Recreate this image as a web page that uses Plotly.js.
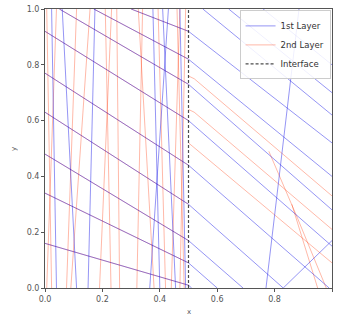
<!DOCTYPE html>
<html>
<head>
<meta charset="utf-8">
<script src="https://cdn.plot.ly/plotly-3.0.1.min.js"></script>
<style>html,body{margin:0;padding:0;background:#fff;}#chart{width:338px;height:320px;}</style>
</head>
<body>
<div id="chart"></div>
<script>
// Steep rays in the left layer: x at y=0 and x at y=1
const redSteepBottom = [0.006, 0.023, 0.075, 0.09, 0.19, 0.23, 0.26, 0.32, 0.38, 0.42, 0.44, 0.47, 0.485];
const redSteepTop    = [0.040, 0.006, 0.110, 0.157, 0.232, 0.21, 0.25, 0.34, 0.325, 0.394, 0.47, 0.49, 0.46];
const blueSteepBottom = [0.04, 0.11, 0.15, 0.365, 0.40, 0.455, 0.49];
const blueSteepTop    = [0.023, 0.06, 0.174, 0.43, 0.376, 0.41, 0.47];

// Oblique rays: start point, point on interface (x=0.5), end point
const diagStartX = [0, 0, 0, 0, 0, 0, 0.05, 0.17, 0.30];
const diagStartY = [0.16, 0.34, 0.48, 0.63, 0.77, 0.92, 1, 1, 1];
const diagMidY   = [0.01, 0.09, 0.17, 0.30, 0.44, 0.60, 0.73, 0.82, 0.92];
const diagEndX   = [0.511, 0.60, 0.69, 0.83, 0.99, 1, 1, 1, 1];
const diagEndY   = [0, 0, 0, 0, 0, 0.15, 0.28, 0.40, 0.52];
const interfaceX = 0.5;

// Other 1st-layer rays in the right half (start -> end)
const blueRightX0 = [0.55, 0.64, 0.76, 0.77, 0.83];
const blueRightY0 = [1, 1, 1, 0, 0];
const blueRightX1 = [1, 1, 1, 0.885, 1];
const blueRightY1 = [0.62, 0.70, 0.80, 1, 0.17];

// 2nd-layer rays in the right half (polylines)
const redRightX = [[0.5, 0.52, 1], [0.5, 0.52, 1], [0.5, 1], [0.78, 0.88, 0.98], [0.86, 0.95]];
const redRightY = [[0.76, 0.75, 0.33], [0.64, 0.63, 0.21], [0.52, 0.09], [0.49, 0.25, 0], [0.30, 0]];

const xTicks = [0, 0.2, 0.4, 0.6, 0.8, 1.0];
const xTickText = ['0.0', '0.2', '0.4', '0.6', '0.8', '1.0'];
const yTicks = [0, 0.2, 0.4, 0.6, 0.8, 1.0];
const yTickText = ['0.0', '0.2', '0.4', '0.6', '0.8', '1.0'];

const bx = [], by = [], rx = [], ry = [];
blueSteepBottom.forEach((b, i) => { bx.push(b, blueSteepTop[i], null); by.push(0, 1, null); });
redSteepBottom.forEach((b, i) => { rx.push(b, redSteepTop[i], null); ry.push(0, 1, null); });
diagStartX.forEach((x0, i) => {
  bx.push(x0, interfaceX, diagEndX[i], null); by.push(diagStartY[i], diagMidY[i], diagEndY[i], null);
  rx.push(x0, interfaceX, null); ry.push(diagStartY[i], diagMidY[i], null);
});
blueRightX0.forEach((x0, i) => { bx.push(x0, blueRightX1[i], null); by.push(blueRightY0[i], blueRightY1[i], null); });
redRightX.forEach((xs, i) => { rx.push(...xs, null); ry.push(...redRightY[i], null); });

const traces = [
  {x: rx, y: ry, mode: 'lines', name: '2nd Layer', legendrank: 2, line: {color: 'rgba(255,50,0,0.38)', width: 0.9}, connectgaps: false, hoverinfo: 'skip'},
  {x: bx, y: by, mode: 'lines', name: '1st Layer', legendrank: 1, line: {color: 'rgba(20,20,230,0.5)', width: 0.9}, connectgaps: false, hoverinfo: 'skip'},
  {x: [interfaceX, interfaceX], y: [0, 1], mode: 'lines', name: 'Interface', legendrank: 3, line: {color: 'rgba(0,0,0,0.7)', width: 1.2, dash: '3px,2px'}, hoverinfo: 'skip'}
];

const axisCommon = {
  showgrid: false, zeroline: false, showline: true, mirror: true,
  linecolor: '#555', linewidth: 1, ticks: 'outside', ticklen: 3, tickcolor: '#555',
  tickfont: {size: 8, color: '#555', family: 'DejaVu Sans'}
};

const layout = {
  width: 338, height: 320,
  margin: {l: 45, r: 6, t: 9, b: 32},
  paper_bgcolor: '#fff', plot_bgcolor: '#fff',
  font: {family: 'DejaVu Sans', color: '#555'},
  showlegend: true,
  legend: {x: 0.995, y: 0.995, xanchor: 'right', yanchor: 'top',
    bgcolor: 'rgba(255,255,255,0.85)', bordercolor: '#ccc', borderwidth: 1,
    font: {size: 8.5, color: '#333', family: 'DejaVu Sans'}, tracegroupgap: 0, itemwidth: 30},
  xaxis: Object.assign({}, axisCommon, {range: [0, 1], tickvals: xTicks, ticktext: xTickText}),
  yaxis: Object.assign({}, axisCommon, {range: [0, 1], tickvals: yTicks, ticktext: yTickText}),
  annotations: [
    {text: 'x', xref: 'paper', yref: 'paper', x: 0.5, y: -0.085, xanchor: 'center', yanchor: 'middle', showarrow: false, font: {size: 7, color: '#555'}},
    {text: 'y', xref: 'paper', yref: 'paper', x: -0.11, y: 0.5, xanchor: 'center', yanchor: 'middle', showarrow: false, textangle: -90, font: {size: 7, color: '#555'}}
  ]
};

Plotly.newPlot('chart', traces, layout, {staticPlot: true, displayModeBar: false});
</script>
</body>
</html>
